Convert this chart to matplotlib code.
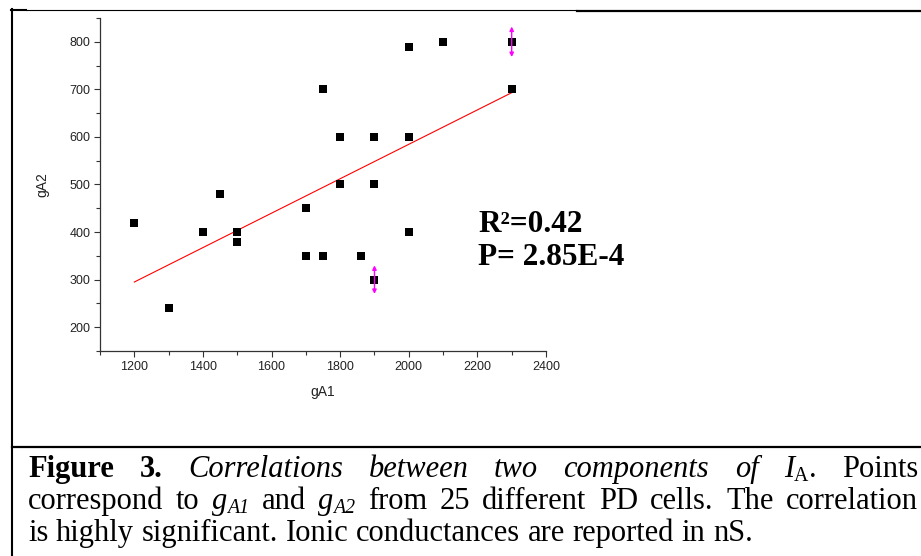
import matplotlib.pyplot as plt
from matplotlib.lines import Line2D
from matplotlib.transforms import IdentityTransform
from matplotlib.ticker import MultipleLocator

# data
gA1 = [1200, 1300, 1400, 1450, 1500, 1500, 1700, 1700, 1750, 1750, 1800,
       1800, 1860, 1900, 1900, 1900, 2000, 2000, 2000, 2100, 2300, 2300]
gA2 = [420, 240, 400, 480, 400, 380, 450, 350, 700, 350, 600,
       500, 350, 600, 500, 300, 790, 600, 400, 800, 800, 700]

fit_x = [1200, 2300]
fit_y = [295, 693]

arrow_x = [1900, 2300]
arrow_y = [300, 800]
arrow_err = [30, 32]

stats_lines = ["R\u00b2=0.42", "P= 2.85E-4"]

W, H = 921, 556
fig = plt.figure(figsize=(W / 100, H / 100), dpi=100)
ax = fig.add_axes([100 / W, 1 - 351 / H, (546 - 100) / W, (351 - 18) / H])

ax.plot(fit_x, fit_y, color='red', lw=0.8, zorder=2)
ax.scatter(gA1, gA2, marker='s', s=40, color='black', zorder=3, linewidths=0)
for x, y, e in zip(arrow_x, arrow_y, arrow_err):
    ax.annotate('', xy=(x, y + e), xytext=(x, y - e),
                arrowprops=dict(arrowstyle='<|-|>', color='magenta', lw=1,
                                mutation_scale=6, shrinkA=0, shrinkB=0),
                zorder=4)

ax.set_xlim(1100, 2400)
ax.set_ylim(150, 850)
ax.xaxis.set_major_locator(MultipleLocator(200))
ax.xaxis.set_minor_locator(MultipleLocator(100))
ax.yaxis.set_minor_locator(MultipleLocator(50))
ax.set_yticks([200, 300, 400, 500, 600, 700, 800])
for s in ['top', 'right']:
    ax.spines[s].set_visible(False)
for s in ['left', 'bottom']:
    ax.spines[s].set_color('#333333')
    ax.spines[s].set_linewidth(0.9)
ax.tick_params(which='major', direction='out', length=4, width=0.8, color='#333333',
               labelsize=9, labelcolor='#222222', pad=3)
ax.tick_params(which='minor', direction='out', length=3, width=0.8, color='#333333')
for lab in ax.get_xticklabels() + ax.get_yticklabels():
    lab.set_fontfamily('Liberation Sans')
ax.set_xlabel('gA1', fontfamily='Liberation Sans', fontsize=10, color='#222222', labelpad=9)
ax.set_ylabel('gA2', fontfamily='Liberation Sans', fontsize=10, color='#222222', labelpad=14)
ax.patch.set_alpha(0)

ident = IdentityTransform()
# stats text
fig.text(478, H - 232, stats_lines[0], transform=ident, fontfamily='Liberation Serif',
         fontweight='bold', fontsize=22.5, va='baseline')
fig.text(478, H - 265, stats_lines[1], transform=ident, fontfamily='Liberation Serif',
         fontweight='bold', fontsize=22.5, va='baseline')

# frame lines
def hline(x0, x1, y, lw):
    fig.add_artist(Line2D([x0, x1], [H - y, H - y], transform=ident, color='black', lw=lw))

hline(11, 26, 10, 1.5)
hline(26, 577, 10, 0.8)
hline(577, W, 10.5, 1.6)
hline(12, W, 447, 1.6)
fig.add_artist(Line2D([12, 12], [H - 9, 0], transform=ident, color='black', lw=1.5))

# caption, justified word by word
FS = 22
styles = {
    'b': dict(fontweight='bold', fontsize=FS),
    'i': dict(fontstyle='italic', fontsize=FS),
    'r': dict(fontsize=FS),
    'sub': dict(fontsize=FS * 0.65),
    'subi': dict(fontstyle='italic', fontsize=FS * 0.65),
}
line1 = [[("Figure", 'b')], [("3.", 'b')], [("Correlations", 'i')], [("between", 'i')],
         [("two", 'i')], [("components", 'i')], [("of", 'i')],
         [("I", 'i'), ("A", 'sub'), (".", 'r')], [("Points", 'r')]]
line2 = [[(w, 'r')] for w in ["correspond", "to"]] + [[("g", 'i'), ("A1", 'subi')]] + \
        [[("and", 'r')]] + [[("g", 'i'), ("A2", 'subi')]] + \
        [[(w, 'r')] for w in "from 25 different PD cells. The correlation".split()]
line3 = [[(w, 'r')] for w in "is highly significant. Ionic conductances are reported in nS.".split()]

renderer = fig.canvas.get_renderer()


def make_word(runs, base_y):
    arts = []
    width = 0
    for txt, st in runs:
        dy = 4 if st.startswith('sub') else 0
        t = fig.text(0, H - base_y - dy, txt, transform=ident, fontfamily='Liberation Serif',
                     va='baseline', ha='left', **styles[st])
        w = t.get_window_extent(renderer).width
        arts.append((t, width))
        width += w
    return arts, width


def draw_line(words, base_y, x0, x1=None):
    made = [make_word(w, base_y) for w in words]
    total = sum(m[1] for m in made)
    if x1 is None:
        gap = FS * 100 / 72 * 0.25
    else:
        gap = (x1 - x0 - total) / (len(words) - 1)
    x = x0
    for arts, w in made:
        for t, off in arts:
            t.set_x(x + off)
        x += w + gap


draw_line(line1, 477, 28, 918)
draw_line(line2, 509, 28, 918)
draw_line(line3, 541, 28)

fig.savefig('out.png', dpi=100)
